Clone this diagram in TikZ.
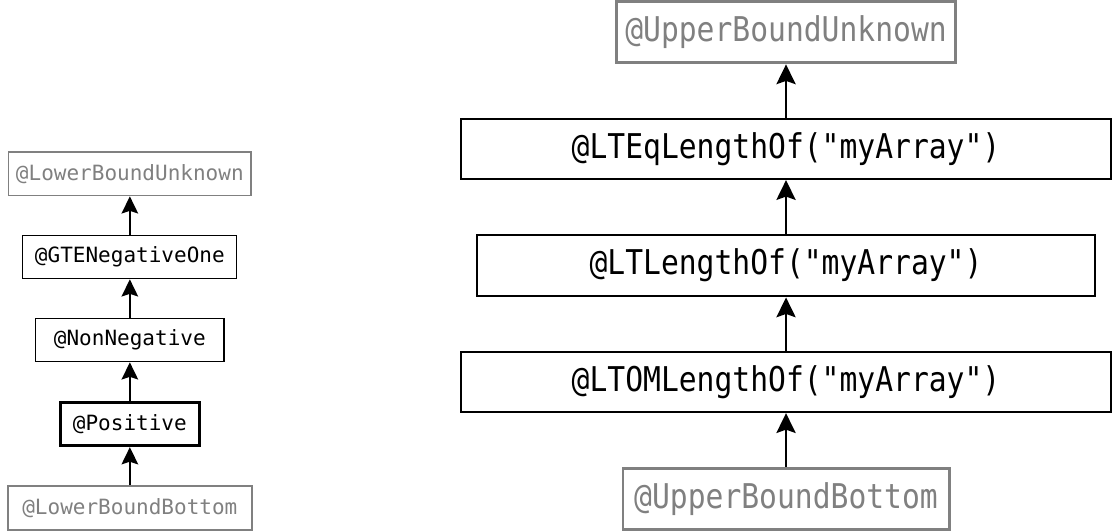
\documentclass[tikz,border=0pt]{standalone}
\usepackage{fontspec}
\setmonofont{DejaVu Sans Mono}
\newfontfamily\narrowmono[FakeStretch=0.87]{DejaVu Sans Mono}
\usetikzlibrary{arrows.meta}
\usetikzlibrary{positioning}

\definecolor{boundgray}{HTML}{808080}

\tikzset{
  lowbox/.style = {draw, line width=0.8pt, minimum height=33pt, inner sep=0pt,
                   font=\ttfamily\fontsize{15.9}{18}\selectfont},
  upbox/.style  = {draw, line width=1.3pt, minimum height=46.5pt, inner sep=0pt,
                   font=\narrowmono\fontsize{25.8}{30}\selectfont},
  bound/.style  = {draw=boundgray, text=boundgray},
  lowarrow/.style = {-{Stealth[length=13pt, width=12.5pt, inset=2pt]}, line width=1.5pt},
  uparrow/.style  = {-{Stealth[length=15pt, width=14.5pt, inset=2.5pt]}, line width=1.7pt}
}

\begin{document}
\begin{tikzpicture}[x=0.75pt, y=0.75pt]

  \fill[white] (0,0) rectangle (1112,532);

  % lower bound lattice
  \node[lowbox, bound, line width=1.2pt, minimum width=184.5pt, anchor=north] (lbb) at (131,44) {@LowerBoundBottom};
  \node[lowbox, line width=2.2pt, minimum width=105pt, above=29pt of lbb] (pos) {@Positive};
  \node[lowbox, minimum width=142.5pt, above=29pt of pos] (nonneg) {@NonNegative};
  \node[lowbox, minimum width=162pt, above=29pt of nonneg] (gteneg) {@GTENegativeOne};
  \node[lowbox, bound, line width=1.2pt, minimum width=183.75pt, above=29pt of gteneg] (lbu) {@LowerBoundUnknown};

  \draw[lowarrow] (lbb) -- (pos);
  \draw[lowarrow] (pos) -- (nonneg);
  \draw[lowarrow] (nonneg) -- (gteneg);
  \draw[lowarrow] (gteneg) -- (lbu);

  % upper bound lattice
  \node[upbox, bound, line width=2.2pt, minimum width=246.75pt, anchor=north] (ubb) at (793,63) {@UpperBoundBottom};
  \node[upbox, minimum width=492pt, minimum height=45.75pt, above=40.5pt of ubb] (ltom) {@LTOMLengthOf("myArray")};
  \node[upbox, line width=1.8pt, minimum width=468pt, above=40.5pt of ltom] (ltlen) {@LTLengthOf("myArray")};
  \node[upbox, minimum width=492pt, minimum height=45.75pt, above=40.5pt of ltlen] (lteq) {@LTEqLengthOf("myArray")};
  \node[upbox, bound, line width=2.2pt, minimum width=256.5pt, above=40.5pt of lteq] (ubu) {@UpperBoundUnknown};

  \draw[uparrow] (ubb) -- (ltom);
  \draw[uparrow] (ltom) -- (ltlen);
  \draw[uparrow] (ltlen) -- (lteq);
  \draw[uparrow] (lteq) -- (ubu);

  \useasboundingbox (0,0) rectangle (1112,532);
\end{tikzpicture}
\end{document}
